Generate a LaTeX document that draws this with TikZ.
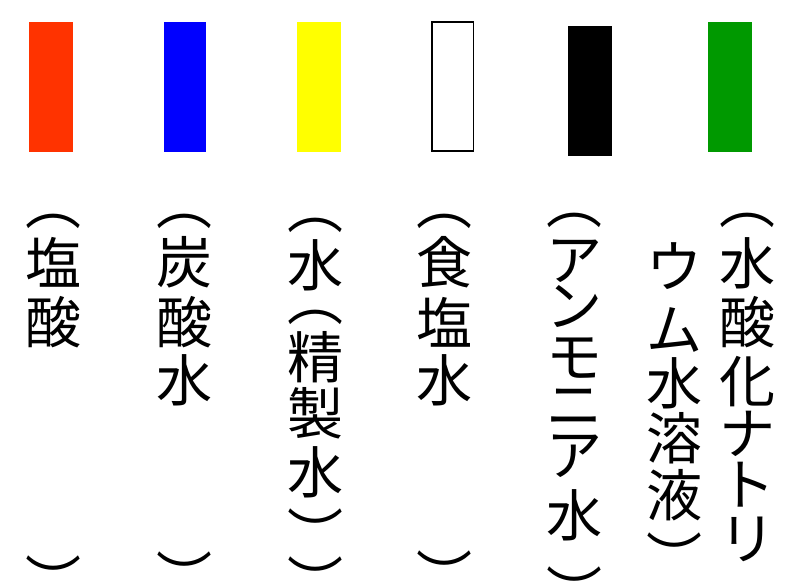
\documentclass[tikz,border=0pt]{standalone}
\usepackage{fontspec}
\newfontfamily\jp{Noto Sans CJK JP}
\definecolor{cred}{HTML}{FF3300}
\definecolor{cblue}{HTML}{0000FF}
\definecolor{cyellow}{HTML}{FFFF00}
\definecolor{cgreen}{HTML}{009900}
\begin{document}
\begin{tikzpicture}[x=1pt,y=-1pt,
  ch/.style={inner sep=0pt,outer sep=0pt,anchor=center,font=\jp\fontsize{56}{60}\selectfont}]
\useasboundingbox (0,0) rectangle (787,581);
% bars
\fill[cred] (29,22) rectangle (73,152);
\fill[cblue] (164,22) rectangle (206,152);
\fill[cyellow] (297,22) rectangle (341,152);
\draw[black,line width=1.2pt] (432,22) rectangle (473.5,151);
\fill[black] (568,26) rectangle (612,156);
\fill[cgreen] (708,22) rectangle (752,152);
% column 1
\node[ch] (a1) at (53,221) {︵};
\node[ch] (a2) at (53,262) {塩};
\node[ch] (a3) at (53,322) {酸};
\node[ch] (a4) at (53,579) {︶};
% column 2
\node[ch] (b1) at (184,221.5) {︵};
\node[ch] (b2) at (184,262) {炭};
\node[ch] (b3) at (184,322) {酸};
\node[ch] (b4) at (184,380) {水};
\node[ch] (b5) at (184,575.5) {︶};
% column 3
\node[ch] (c1) at (315,225) {︵};
\node[ch] (c2) at (315,265) {水};
\node[ch] (c3) at (315,317.5) {︵};
\node[ch] (c4) at (315,357) {精};
\node[ch] (c5) at (315,413.5) {製};
\node[ch] (c6) at (315,472) {水};
\node[ch] (c7) at (315,532.5) {︶};
\node[ch] (c8) at (315,580.5) {︶};
% column 4
\node[ch] (d1) at (444,221.5) {︵};
\node[ch] (d2) at (444,262) {食};
\node[ch] (d3) at (444,322) {塩};
\node[ch] (d4) at (444,380) {水};
\node[ch] (d5) at (444,574.5) {︶};
% column 5
\node[ch] (e1) at (574,220) {︵};
\node[ch] (e2) at (574,261.5) {ア};
\node[ch] (e3) at (574,307) {ン};
\node[ch] (e4) at (574,358) {モ};
\node[ch] (e5) at (574,407) {ニ};
\node[ch] (e6) at (574,456.5) {ア};
\node[ch] (e7) at (574,515) {水};
\node[ch] (e8) at (574,590.5) {︶};
% column 6 right
\node[ch] (f1) at (747,220) {︵};
\node[ch] (f2) at (747,263.5) {水};
\node[ch] (f3) at (747,322) {酸};
\node[ch] (f4) at (747,382) {化};
\node[ch] (f5) at (747,433.5) {ナ};
\node[ch] (f6) at (747,485) {ト};
\node[ch] (f7) at (747,539) {リ};
% column 6 left
\node[ch] (g1) at (674,266.5) {ウ};
\node[ch] (g2) at (674,330) {ム};
\node[ch] (g3) at (674,383.5) {水};
\node[ch] (g4) at (674,438) {溶};
\node[ch] (g5) at (674,495.5) {液};
\node[ch] (g6) at (674,556.5) {︶};
\end{tikzpicture}
\end{document}
